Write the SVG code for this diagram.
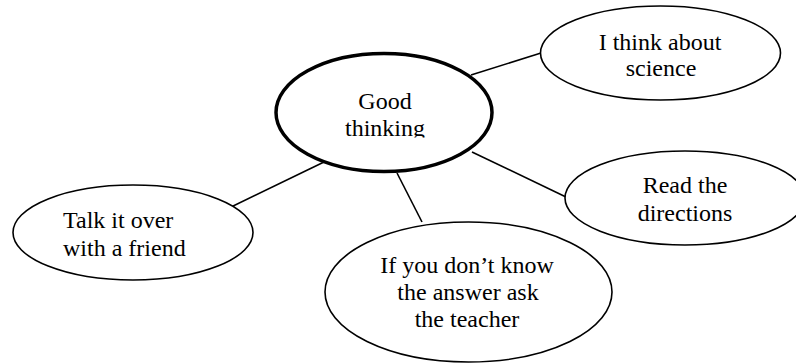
<svg xmlns="http://www.w3.org/2000/svg" width="796" height="364" viewBox="0 0 796 364">
<style>
.node{fill:#fff;stroke:#000;stroke-width:1.6}
.main{fill:#fff;stroke:#000;stroke-width:3.5}
.lbl{font-family:"Liberation Serif","Times New Roman",serif;font-size:24px;fill:#000}
.c{text-anchor:middle}
.edge{stroke:#000;stroke-width:1.6;fill:none}
</style>
<defs>
<clipPath id="cut"><rect x="0" y="0" width="796" height="137.5"/></clipPath>
</defs>
<g id="connectors">
<line class="edge" x1="471" y1="75" x2="541" y2="53"/>
<line class="edge" x1="472" y1="152" x2="566" y2="197"/>
<line class="edge" x1="324" y1="162" x2="229" y2="208"/>
<line class="edge" x1="397" y1="173" x2="422" y2="222"/>
</g>
<g id="n-good">
<ellipse class="main" cx="384" cy="112.5" rx="108" ry="59"/>
<g clip-path="url(#cut)">
<text class="lbl c" x="385" y="109">Good</text>
<text class="lbl c" x="385" y="136">thinking</text>
</g>
</g>
<g id="n-science">
<ellipse class="node" cx="660.5" cy="53" rx="120" ry="47"/>
<text class="lbl c" x="660" y="50">I think about</text>
<text class="lbl c" x="661" y="76">science</text>
</g>
<g id="n-read">
<ellipse class="node" cx="685" cy="198" rx="120" ry="47"/>
<text class="lbl c" x="685" y="193">Read the</text>
<text class="lbl c" x="685" y="221">directions</text>
</g>
<g id="n-talk">
<ellipse class="node" cx="133" cy="232.5" rx="120" ry="47.5"/>
<text class="lbl" x="63" y="228">Talk it over</text>
<text class="lbl" x="63" y="256">with a friend</text>
</g>
<g id="n-teacher">
<ellipse class="node" cx="468.5" cy="292" rx="143.5" ry="70"/>
<text class="lbl c" x="467" y="273">If you don’t know</text>
<text class="lbl c" x="468" y="300">the answer ask</text>
<text class="lbl c" x="467" y="327">the teacher</text>
</g>
</svg>
